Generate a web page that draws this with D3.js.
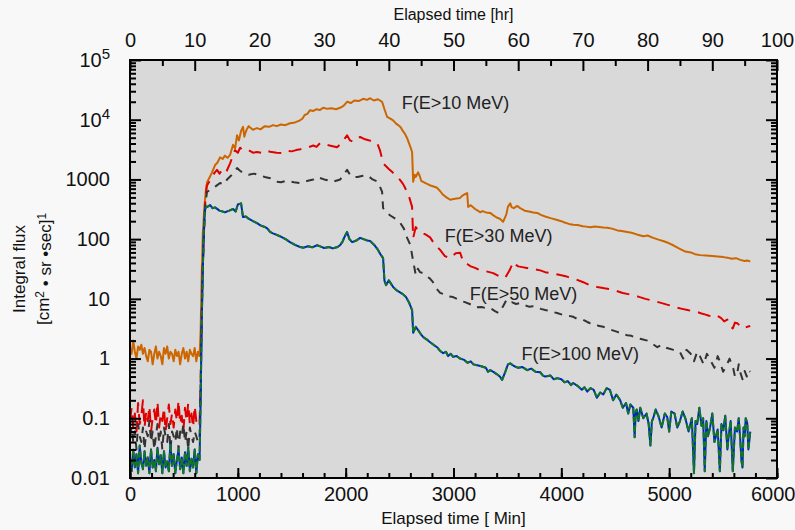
<!DOCTYPE html>
<html>
<head>
<meta charset="utf-8">
<script src="https://cdn.jsdelivr.net/npm/d3@7"></script>
<style>
  body { margin: 0; background: #f8f8f8; }
  svg { font-family: "Liberation Sans", Arial, sans-serif; display: block; }
</style>
</head>
<body>
<svg id="chart" width="795" height="530"></svg>
<script>
// [minutes, flux]
const flux10 = [[0,1.5],[15,1.2],[30,2.0],[45,1.3],[60,1.0],[75,1.6],[90,1.4],[105,1.7],[120,1.2],[135,1.5],[150,1.1],[165,0.9],[180,1.4],[195,1.3],[210,0.8],[225,1.2],[240,1.6],[255,1.0],[270,1.3],[285,1.1],[300,0.8],[315,1.5],[330,1.2],[345,1.6],[360,1.0],[375,1.3],[390,1.2],[405,0.9],[420,1.4],[435,1.1],[450,1.3],[465,0.8],[480,1.2],[495,1.5],[510,1.0],[525,1.3],[540,0.9],[555,1.4],[570,1.2],[585,1.1],[600,1.5],[615,0.9],[630,1.3],[645,1.1],
  [655,3],[665,25],[675,120],[690,350],[705,700],[715,900],[740,1100],[760,1300],[789,1740],[810,1900],[835,2340],[860,2200],[880,2500],[905,2300],[928,2570],[956,3800],[975,3300],[993,5500],[1010,4500],[1030,6500],[1048,7600],[1060,5200],[1070,6000],[1085,7000],[1100,7800],[1140,6800],[1178,7240],[1210,6900],[1250,7800],[1290,7600],[1327,8130],[1360,7800],[1400,8300],[1440,8100],[1484,8710],[1530,9000],[1577,9770],[1600,10500],[1620,12000],[1645,12500],[1670,14450],[1700,14000],[1730,15000],[1760,14500],[1791,15850],[1830,15200],[1870,15500],[1910,15000],[1948,15850],[1980,17000],[2013,19950],[2050,19000],[2080,21000],[2120,20500],[2162,22400],[2200,21500],[2227,22900],[2260,21000],[2300,22000],[2338,19950],[2360,15000],[2384,11200],[2410,10500],[2440,9770],[2465,8700],[2487,8130],[2510,7500],[2530,6500],[2550,5800],[2570,4900],[2600,3500],[2616,2880],[2626,912],[2640,1200],[2650,1100],[2672,1318],[2690,1100],[2700,950],[2718,912],[2750,850],[2780,800],[2815,760],[2848,724],[2875,640],[2900,560],[2935,500],[2969,457],[3000,470],[3030,480],[3062,490],[3080,530],[3100,560],[3127,589],[3136,347],[3160,370],[3200,320],[3225,300],[3247,282],[3270,295],[3300,280],[3340,275],[3370,250],[3400,230],[3430,220],[3460,195],[3490,260],[3505,350],[3526,398],[3540,340],[3560,330],[3590,360],[3618,331],[3660,300],[3700,290],[3740,280],[3776,275],[3810,255],[3850,240],[3900,225],[3962,209],[4000,200],[4030,190],[4070,180],[4110,174],[4150,172],[4200,165],[4230,162],[4268,158],[4310,163],[4350,160],[4390,157],[4426,155],[4470,150],[4520,140],[4560,137],[4611,132],[4650,128],[4700,120],[4760,112],[4800,115],[4852,105],[4900,98],[4950,92],[4995,86],[5038,79],[5090,70],[5150,62],[5200,60],[5240,56],[5288,54],[5340,53],[5400,52],[5450,51],[5502,50],[5540,49],[5580,47],[5620,48],[5659,45],[5700,43],[5725,44],[5752,42]];

const flux30 = [[0,0.09],[15,0.15],[30,0.07],[45,0.12],[60,0.06],[75,0.18],[90,0.08],[105,0.11],[120,0.2],[135,0.07],[150,0.13],[165,0.09],[180,0.16],[195,0.06],[210,0.1],[225,0.14],[240,0.08],[255,0.19],[270,0.07],[285,0.12],[300,0.09],[315,0.15],[330,0.06],[345,0.1],[360,0.17],[375,0.08],[390,0.12],[405,0.07],[420,0.14],[435,0.09],[450,0.2],[465,0.08],[480,0.11],[495,0.06],[510,0.15],[525,0.09],[540,0.18],[555,0.08],[570,0.12],[585,0.07],[600,0.16],[615,0.09],[630,0.1],[645,0.08],
  [655,0.4],[665,6],[675,40],[690,200],[700,500],[714,794],[740,950],[760,1100],[785,1300],[807,1445],[830,1250],[854,1445],[890,1300],[928,1860],[950,2400],[974,3090],[1000,2800],[1021,3390],[1060,3000],[1100,3100],[1140,2800],[1178,2880],[1234,2750],[1270,3000],[1300,2900],[1360,2800],[1420,2750],[1460,3000],[1500,2950],[1540,3100],[1580,3200],[1642,3390],[1700,3700],[1730,3500],[1763,4070],[1810,3900],[1850,3700],[1920,3470],[1960,4000],[2013,5500],[2040,4500],[2069,4270],[2100,4800],[2134,5130],[2180,4700],[2220,4500],[2260,4300],[2292,4070],[2320,3000],[2347,1860],[2400,1500],[2440,1290],[2470,1150],[2500,1000],[2530,850],[2551,724],[2590,500],[2616,347],[2626,105],[2650,160],[2670,140],[2690,132],[2740,120],[2783,107],[2810,90],[2830,80],[2876,66],[2920,52],[2969,48],[3000,54],[3020,58],[3062,59],[3090,41.7],[3130,38],[3160,35],[3200,33],[3247,30],[3300,29],[3368,27],[3420,24],[3450,23],[3479,22.4],[3520,30],[3554,41.7],[3580,37],[3600,35],[3637,34],[3680,33],[3720,31],[3760,31],[3804,30],[3850,28],[3900,27],[3950,26],[3990,25],[4040,24],[4082,22.4],[4140,21],[4203,19],[4260,17],[4300,16.5],[4333,15.8],[4400,15],[4440,14.6],[4481,14.1],[4520,13.4],[4570,12.5],[4620,12],[4667,11.5],[4720,10.8],[4780,10],[4830,9.5],[4890,8.9],[4940,8.4],[4980,8],[5030,7.6],[5075,7.1],[5120,6.8],[5170,6.5],[5220,6.2],[5261,6.0],[5300,5.7],[5330,5.5],[5370,5.2],[5409,5.0],[5440,5.3],[5480,4.8],[5510,4.2],[5539,4.5],[5560,3.6],[5590,3.2],[5610,4.0],[5632,3.9],[5660,3.5],[5680,3.6],[5700,3.3],[5724,3.4],[5752,3.5]];

const flux50 = [[0,0.05],[15,0.07],[30,0.04],[45,0.06],[60,0.03],[75,0.08],[90,0.05],[105,0.04],[120,0.07],[135,0.03],[150,0.06],[165,0.05],[180,0.09],[195,0.04],[210,0.06],[225,0.03],[240,0.05],[255,0.08],[270,0.04],[285,0.06],[300,0.03],[315,0.07],[330,0.05],[345,0.04],[360,0.08],[375,0.03],[390,0.06],[405,0.05],[420,0.04],[435,0.07],[450,0.03],[465,0.06],[480,0.05],[495,0.08],[510,0.04],[525,0.06],[540,0.03],[555,0.07],[570,0.05],[585,0.04],[600,0.06],[615,0.05],[630,0.04],[645,0.05],
  [655,0.3],[665,5],[675,35],[690,180],[700,400],[714,617],[760,700],[800,780],[835,871],[870,820],[900,1000],[940,1175],[993,1550],[1020,1400],[1048,1290],[1100,1200],[1150,1250],[1200,1175],[1250,1100],[1300,1050],[1360,912],[1400,900],[1450,950],[1520,900],[1577,871],[1650,950],[1700,1000],[1735,1100],[1800,1000],[1840,960],[1880,912],[1950,1000],[2013,1445],[2040,1200],[2060,1100],[2110,1100],[2160,1150],[2200,1175],[2250,1000],[2300,912],[2338,617],[2347,331],[2380,290],[2410,251],[2460,220],[2500,195],[2540,150],[2570,105],[2600,80],[2616,54],[2650,25],[2670,32],[2690,28],[2718,26.9],[2750,24],[2780,22],[2810,19],[2840,15],[2876,12.6],[2910,12],[2950,11],[2996,10.7],[3040,9.8],[3080,9],[3100,8.9],[3150,8.2],[3200,7.5],[3211,7.2],[3260,7.3],[3300,7.0],[3340,7.1],[3380,6.3],[3420,5.75],[3460,7.5],[3490,9.5],[3515,8.6],[3540,8.8],[3580,8.2],[3618,8.5],[3660,7.8],[3700,7.4],[3740,7.5],[3776,7.2],[3810,6.8],[3850,6.5],[3890,6.3],[3925,6.0],[3960,5.8],[4000,5.5],[4050,5.3],[4110,5.0],[4150,4.6],[4200,4.5],[4240,4.1],[4268,3.9],[4310,3.8],[4350,3.5],[4390,3.4],[4426,3.2],[4470,3.0],[4520,2.8],[4560,2.6],[4611,2.45],[4650,2.4],[4700,2.2],[4750,2.1],[4797,2.0],[4840,1.8],[4890,1.55],[4930,1.7],[4980,1.5],[5040,1.4],[5100,1.29],[5130,1.0],[5160,1.4],[5200,1.2],[5230,0.9],[5260,1.3],[5288,1.07],[5320,0.8],[5350,1.2],[5380,0.95],[5420,0.7],[5450,1.1],[5473,0.87],[5500,0.6],[5530,0.75],[5560,1.0],[5594,0.69],[5610,0.5],[5630,0.55],[5645,0.8],[5659,0.59],[5680,0.45],[5700,0.62],[5720,0.5],[5733,0.64],[5752,0.6]];

const flux100 = [[0,0.02],[15,0.013],[30,0.03],[45,0.015],[60,0.025],[75,0.012],[90,0.035],[105,0.018],[120,0.014],[135,0.028],[150,0.016],[165,0.022],[180,0.012],[195,0.03],[210,0.015],[225,0.02],[240,0.013],[255,0.032],[270,0.017],[285,0.024],[300,0.012],[315,0.028],[330,0.015],[345,0.019],[360,0.013],[375,0.038],[390,0.016],[405,0.025],[420,0.012],[435,0.02],[450,0.03],[465,0.014],[480,0.022],[495,0.012],[510,0.027],[525,0.016],[540,0.033],[555,0.013],[570,0.021],[585,0.015],[600,0.03],[615,0.012],[630,0.025],[645,0.02],
  [655,0.2],[665,4],[675,30],[685,150],[696,331],[720,350],[743,372],[765,330],[789,340],[830,300],[881,282],[920,300],[956,320],[980,290],[1000,380],[1030,398],[1048,234],[1075,240],[1100,220],[1140,200],[1178,186],[1210,170],[1250,160],[1275,150],[1299,132],[1325,125],[1350,120],[1390,112],[1420,105],[1450,98],[1480,90],[1530,80],[1577,74],[1610,72],[1650,76],[1690,73],[1735,79],[1770,75],[1800,71],[1845,74],[1880,70],[1925,74],[1950,80],[1970,90],[1990,110],[2013,132],[2035,100],[2060,89],[2100,95],[2134,105],[2165,100],[2200,95],[2227,93],[2265,80],[2300,66],[2325,55],[2347,48],[2360,20],[2375,17],[2400,20.4],[2420,18],[2440,15.8],[2470,14],[2500,13],[2530,12],[2560,10.7],[2590,8.5],[2616,6.5],[2626,2.7],[2650,3.4],[2672,3.0],[2695,2.6],[2718,2.3],[2750,2.1],[2780,1.9],[2815,1.7],[2848,1.55],[2875,1.35],[2904,1.23],[2930,1.3],[2950,1.1],[2975,1.2],[2996,1.07],[3030,1.1],[3060,1.0],[3100,0.95],[3130,0.85],[3160,0.9],[3185,0.8],[3210,0.78],[3250,0.75],[3300,0.7],[3320,0.6],[3340,0.64],[3370,0.6],[3400,0.55],[3430,0.5],[3451,0.44],[3480,0.6],[3505,0.8],[3526,0.83],[3560,0.75],[3600,0.7],[3640,0.72],[3684,0.64],[3720,0.68],[3760,0.6],[3804,0.59],[3830,0.52],[3850,0.5],[3900,0.52],[3930,0.45],[3962,0.47],[4000,0.45],[4030,0.4],[4060,0.42],[4090,0.36],[4110,0.39],[4150,0.35],[4190,0.3],[4215,0.33],[4240,0.28],[4270,0.32],[4300,0.3],[4330,0.22],[4360,0.27],[4389,0.25],[4420,0.32],[4450,0.3],[4480,0.2],[4510,0.25],[4546,0.2],[4570,0.15],[4600,0.18],[4620,0.12],[4640,0.17],[4667,0.15],[4680,0.048],[4690,0.13],[4700,0.14],[4715,0.09],[4732,0.15],[4760,0.1],[4790,0.12],[4810,0.08],[4826,0.035],[4840,0.09],[4852,0.1],[4875,0.14],[4900,0.11],[4930,0.07],[4960,0.12],[4982,0.105],[5000,0.06],[5020,0.13],[5050,0.12],[5075,0.07],[5100,0.09],[5125,0.13],[5150,0.1],[5180,0.06],[5210,0.1],[5230,0.012],[5245,0.09],[5260,0.08],[5280,0.15],[5300,0.075],[5315,0.1],[5330,0.013],[5345,0.09],[5360,0.05],[5380,0.071],[5400,0.12],[5420,0.04],[5450,0.065],[5470,0.013],[5485,0.08],[5502,0.063],[5520,0.11],[5540,0.03],[5550,0.048],[5570,0.09],[5590,0.013],[5610,0.07],[5630,0.06],[5645,0.1],[5659,0.045],[5670,0.02],[5680,0.015],[5690,0.07],[5700,0.05],[5710,0.1],[5724,0.083],[5735,0.03],[5752,0.06]];

const seriesNames = ["F(E>10 MeV)", "F(E>30 MeV)", "F(E>50 MeV)", "F(E>100 MeV)"];
// where the names sit, in [minutes, flux]
const namePos = [[2520, 15000], [2920, 90], [3150, 9.5], [3630, 0.95]];

const minTicks = [0, 1000, 2000, 3000, 4000, 5000, 6000];
const hrTicks = [0, 10, 20, 30, 40, 50, 60, 70, 80, 90, 100];
const fluxTicks = [0.01, 0.1, 1, 10, 100, 1000, 1e4, 1e5];
const fluxTickLabels = ["0.01", "0.1", "1", "10", "100", "1000", "10^4", "10^5"];

const W = 795, H = 530;
const m = {top: 60, right: 18, bottom: 52, left: 130};

const svg = d3.select("#chart");
const x = d3.scaleLinear().domain([0, 6000]).range([m.left, W - m.right]);
const xHr = d3.scaleLinear().domain([0, 100]).range([m.left, W - m.right]);
const y = d3.scaleLog().domain([0.01, 1e5]).range([H - m.bottom, m.top]);

svg.append("rect").attr("width", W).attr("height", H).attr("fill", "#f8f8f8");
svg.append("rect")
  .attr("x", m.left).attr("y", m.top)
  .attr("width", W - m.left - m.right).attr("height", H - m.top - m.bottom)
  .attr("fill", "#d9d9d9");

svg.append("clipPath").attr("id", "plot")
  .append("rect")
  .attr("x", m.left).attr("y", m.top)
  .attr("width", W - m.left - m.right).attr("height", H - m.top - m.bottom);

// lines
const line = d3.line().x(d => x(d[0])).y(d => y(d[1]));
const g = svg.append("g").attr("clip-path", "url(#plot)").attr("fill", "none")
  .attr("stroke-width", 2).attr("stroke-linejoin", "round");

g.append("path").datum(flux10).attr("d", line).attr("stroke", "#cc6600");
g.append("path").datum(flux30).attr("d", line).attr("stroke", "#e00000").attr("stroke-dasharray", "13,8");
g.append("path").datum(flux50).attr("d", line).attr("stroke", "#333333").attr("stroke-dasharray", "8,7");
g.append("path").datum(flux100).attr("d", line).attr("stroke", "#0022cc");
g.append("path").datum(flux100).attr("d", line).attr("stroke", "#117722").attr("stroke-dasharray", "6,3");

// series names
svg.append("g").selectAll("text")
  .data(seriesNames)
  .join("text")
  .attr("x", (d, i) => x(namePos[i][0]))
  .attr("y", (d, i) => y(namePos[i][1]))
  .attr("font-size", 18)
  .attr("fill", "#222")
  .text(d => d);

// minor log ticks
const minorFlux = [];
for (let e = -2; e < 5; e++) for (let k = 2; k < 10; k++) minorFlux.push(k * Math.pow(10, e));

function styleAxis(sel) {
  sel.select(".domain").remove();
  sel.selectAll(".tick line").attr("stroke", "#000").attr("stroke-width", 2);
  sel.selectAll("text").attr("font-size", 20).attr("fill", "#111").attr("font-family", null);
}

// bottom
svg.append("g").attr("transform", `translate(0,${H - m.bottom})`)
  .call(d3.axisBottom(x).tickValues(d3.range(0, 6001, 200)).tickSize(-5).tickFormat(""))
  .call(styleAxis);
const xAx = svg.append("g").attr("transform", `translate(0,${H - m.bottom})`)
  .call(d3.axisBottom(x).tickValues(minTicks).tickSize(-10).tickPadding(9).tickFormat(d3.format("d")))
  .call(styleAxis);
// keep the last label inside the window
xAx.selectAll(".tick text").filter(d => d === 6000).attr("text-anchor", "end").attr("x", 18);

// top (hours)
svg.append("g").attr("transform", `translate(0,${m.top})`)
  .call(d3.axisTop(xHr).tickValues(d3.range(5, 100, 10)).tickSize(-6).tickFormat(""))
  .call(styleAxis);
svg.append("g").attr("transform", `translate(0,${m.top})`)
  .call(d3.axisTop(xHr).tickValues(hrTicks).tickSize(-11).tickPadding(13))
  .call(styleAxis);

// left
svg.append("g").attr("transform", `translate(${m.left},0)`)
  .call(d3.axisLeft(y).tickValues(minorFlux).tickSize(-6).tickFormat(""))
  .call(styleAxis);
const yAx = svg.append("g").attr("transform", `translate(${m.left},0)`)
  .call(d3.axisLeft(y).tickValues(fluxTicks).tickSize(-11).tickPadding(20).tickFormat(""))
  .call(styleAxis);
yAx.selectAll(".tick text").each(function(d, i) {
  const t = d3.select(this);
  const lab = fluxTickLabels[i];
  if (lab.includes("^")) {
    const [b, p] = lab.split("^");
    t.text(null);
    t.append("tspan").text(b);
    t.append("tspan").attr("dy", "-0.5em").attr("font-size", 15).text(p);
  } else {
    t.text(lab);
  }
});

// right
svg.append("g").attr("transform", `translate(${W - m.right},0)`)
  .call(d3.axisRight(y).tickValues(minorFlux).tickSize(-6).tickFormat(""))
  .call(styleAxis);
svg.append("g").attr("transform", `translate(${W - m.right},0)`)
  .call(d3.axisRight(y).tickValues(fluxTicks).tickSize(-11).tickFormat(""))
  .call(styleAxis);

// frame
svg.append("rect")
  .attr("x", m.left).attr("y", m.top)
  .attr("width", W - m.left - m.right).attr("height", H - m.top - m.bottom)
  .attr("fill", "none").attr("stroke", "#000").attr("stroke-width", 2);

// titles
const midX = (m.left + W - m.right) / 2;
svg.append("text").attr("x", midX).attr("y", 20).attr("text-anchor", "middle")
  .attr("font-size", 16).attr("fill", "#111").text("Elapsed time [hr]");
svg.append("text").attr("x", midX).attr("y", 524).attr("text-anchor", "middle")
  .attr("font-size", 17).attr("fill", "#111").text("Elapsed time [ Min]");

const midY = (m.top + H - m.bottom) / 2;
svg.append("text").attr("transform", `translate(25,${midY}) rotate(-90)`)
  .attr("text-anchor", "middle").attr("font-size", 17).attr("fill", "#111")
  .text("Integral flux");
const yt2 = svg.append("text").attr("transform", `translate(49,${midY}) rotate(-90)`)
  .attr("text-anchor", "middle").attr("font-size", 17).attr("fill", "#111");
yt2.append("tspan").text("[cm");
yt2.append("tspan").attr("dy", "-0.45em").attr("font-size", 12).text("2");
yt2.append("tspan").attr("dy", "0.45em").text(" \u2022 sr \u2022sec]");
yt2.append("tspan").attr("dy", "-0.45em").attr("font-size", 12).text("1");
</script>
</body>
</html>
